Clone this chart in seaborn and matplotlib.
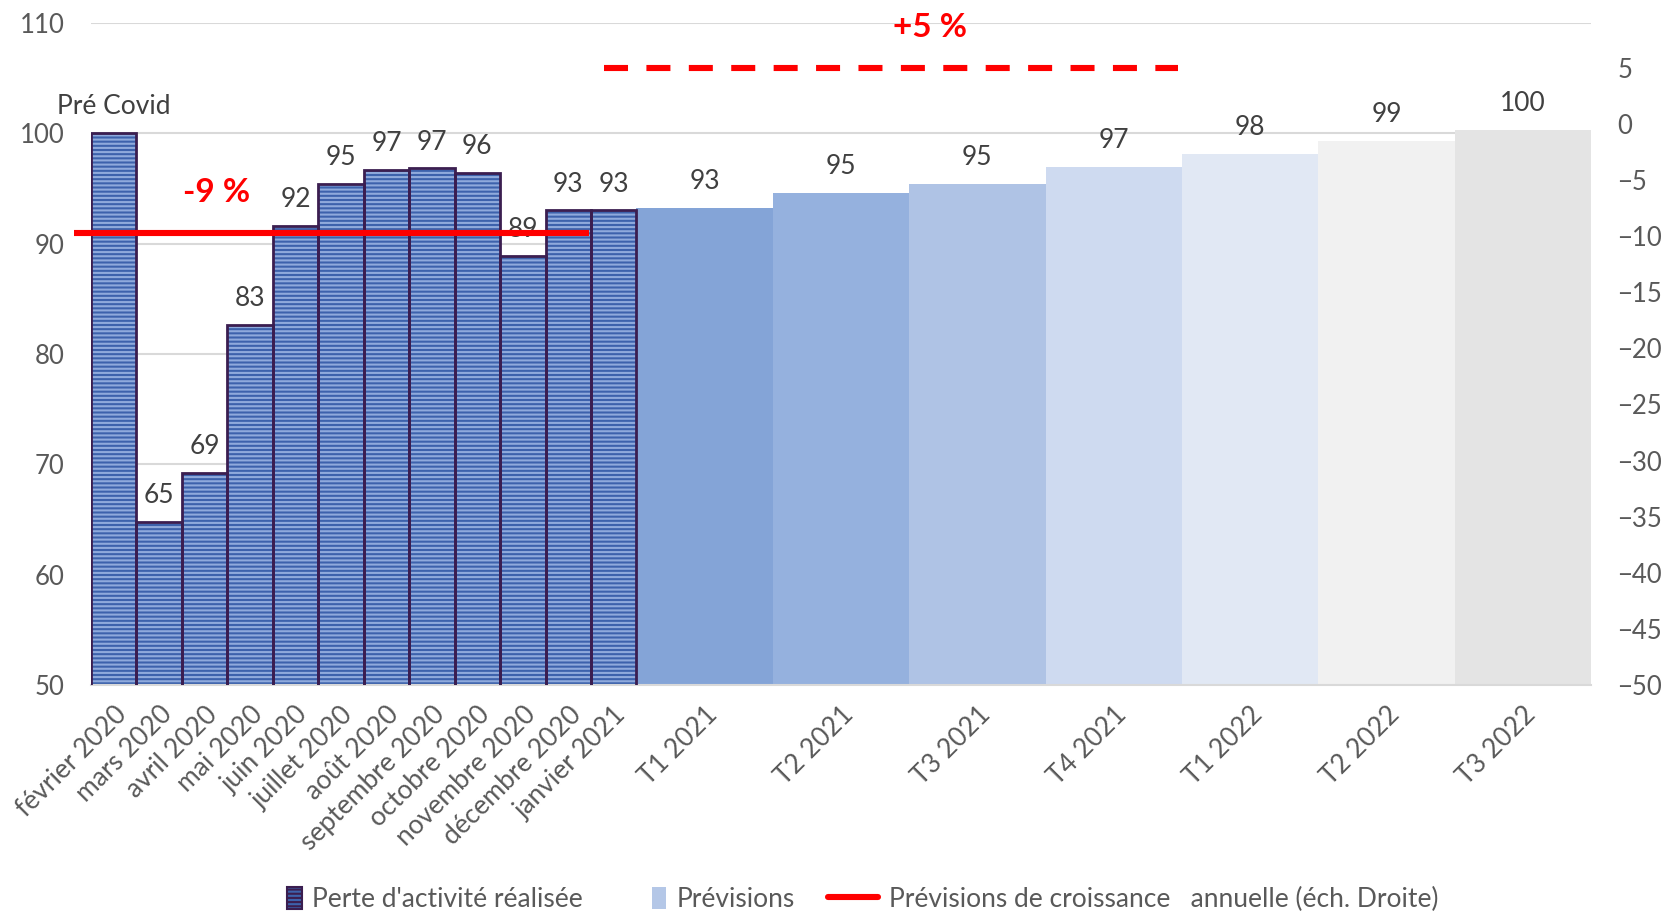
import numpy as np
import matplotlib
matplotlib.use("Agg")
import matplotlib.pyplot as plt
import seaborn as sns
from matplotlib.patches import Patch, Rectangle
from matplotlib.lines import Line2D
from matplotlib.legend_handler import HandlerPatch

# Données
months = ['février 2020', 'mars 2020', 'avril 2020', 'mai 2020', 'juin 2020', 'juillet 2020',
          'août 2020', 'septembre 2020', 'octobre 2020', 'novembre 2020', 'décembre 2020', 'janvier 2021']
month_vals = [100, 64.8, 69.2, 82.6, 91.6, 95.4, 96.7, 96.8, 96.4, 88.9, 93.0, 93.0]
quarters = ['T1 2021', 'T2 2021', 'T3 2021', 'T4 2021', 'T1 2022', 'T2 2022', 'T3 2022']
quarter_vals = [93.2, 94.6, 95.4, 96.9, 98.1, 99.3, 100.3]
quarter_colors = ['#84A4D7', '#95B1DE', '#AFC3E5', '#CEDAF0', '#E1E8F4', '#F1F1F1', '#E4E4E4']

# prévisions de croissance annuelle (échelle droite)
growth_2020 = -9.7
growth_2021 = 5.0
growth_2020_span = [-0.37, 10.96]
growth_2021_span = [11.28, 23.92]

# positions : 1 unité par mois, 3 par trimestre
month_pos = np.arange(len(months)) + 0.5
quarter_pos = len(months) + 1.5 + 3 * np.arange(len(quarters))

sns.set_style('white')
plt.rcParams['font.family'] = ['Lato', 'DejaVu Sans']
plt.rcParams['hatch.linewidth'] = 1.5

fig = plt.figure(figsize=(16.63, 9.11), dpi=100)
ax = fig.add_axes([0.0547, 0.248, 0.902, 0.727])

txt_col = '#404040'
tick_col = '#595959'
fs = 19
red = '#FF0000'

# barres mensuelles hachurées
sns.barplot(x=month_pos, y=month_vals, native_scale=True, width=1, color='#3D62AC',
            saturation=1, edgecolor='#8FAADC', linewidth=0, hatch='----', ax=ax, zorder=2)
sns.barplot(x=month_pos, y=month_vals, native_scale=True, width=1, color='#3B1E50',
            fill=False, linewidth=2, ax=ax, zorder=3)

# barres trimestrielles (prévisions)
sns.barplot(x=quarter_pos, y=quarter_vals, hue=quarters, native_scale=True, width=1,
            palette=dict(zip(quarters, quarter_colors)), saturation=1, dodge=False,
            linewidth=0, legend=False, ax=ax, zorder=2)

ax.set_xlim(0, len(months) + 3 * len(quarters))
ax.set_ylim(50, 110)
ax.set_yticks(np.arange(50, 111, 10))
ax.yaxis.grid(True, color='#D9D9D9', linewidth=1.5, zorder=0)
ax.set_axisbelow(True)
for s in ['left', 'right', 'top']:
    ax.spines[s].set_visible(False)
ax.spines['bottom'].set_color('#D9D9D9')
ax.spines['bottom'].set_linewidth(1.5)
ax.tick_params(axis='y', length=0, pad=19, labelsize=18.5, labelcolor=tick_col)
ax.set_xticks(np.concatenate([month_pos, quarter_pos]))
ax.set_xticklabels(months + quarters, rotation=45, ha='right', rotation_mode='anchor',
                   fontsize=fs, color=tick_col)
ax.tick_params(axis='x', length=0, pad=12)
ax.set_xlabel('')
ax.set_ylabel('')

# étiquettes de données
for i, (x, v) in enumerate(zip(np.concatenate([month_pos, quarter_pos]), month_vals + quarter_vals)):
    lab = 'Pré Covid' if i == 0 else f'{v:.0f}'
    ax.annotate(lab, (x, v), xytext=(0, 19), textcoords='offset points', ha='center',
                va='center', fontsize=fs, color=txt_col, zorder=5)

# axe secondaire
ax2 = ax.twinx()
ax2.set_ylim(-50, 9)
ax2.set_yticks(np.arange(-50, 6, 5))
for s in ax2.spines.values():
    s.set_visible(False)
ax2.tick_params(axis='y', length=0, pad=19, labelsize=18.5, labelcolor=tick_col)
ax2.plot(growth_2020_span, [growth_2020] * 2, color=red, linewidth=4.4,
         solid_capstyle='butt', clip_on=False)
ax2.plot(growth_2021_span, [growth_2021] * 2, color=red, linewidth=4.4,
         linestyle=(0, (3.93, 3.01)), dash_capstyle='butt', clip_on=False)

ax.text(2.76, 94.6, '-9 %', color=red, fontsize=24, fontweight='bold',
        ha='center', va='center', zorder=6)
ax.text(18.46, 109.6, '+5 %', color=red, fontsize=24, fontweight='bold',
        ha='center', va='center', zorder=6)


def narrow_patch(legend, orig_handle, xdescent, ydescent, width, height, fontsize):
    w = 0.55 * fontsize
    h = 0.85 * fontsize
    return Rectangle((-xdescent + width - w, -ydescent + height / 2 - h / 2), w, h)


handles = [
    Patch(facecolor='#3D62AC', edgecolor='#3B1E50', hatch='----', linewidth=1.5),
    Patch(facecolor='#B4C7E7', edgecolor='none'),
    Line2D([0], [0], color=red, linewidth=4.4),
]
labels = ["Perte d'activité réalisée", 'Prévisions',
          'Prévisions de croissance   annuelle (éch. Droite)']
leg = fig.legend(handles, labels, loc='center', bbox_to_anchor=(0.508, 0.013), ncol=3,
                 frameon=False, fontsize=fs, handlelength=1.9, handleheight=1.0,
                 columnspacing=1.25, handletextpad=0.4,
                 handler_map={Patch: HandlerPatch(patch_func=narrow_patch)})
for t in leg.get_texts():
    t.set_color(tick_col)

fig.savefig('out.png', dpi=100)
